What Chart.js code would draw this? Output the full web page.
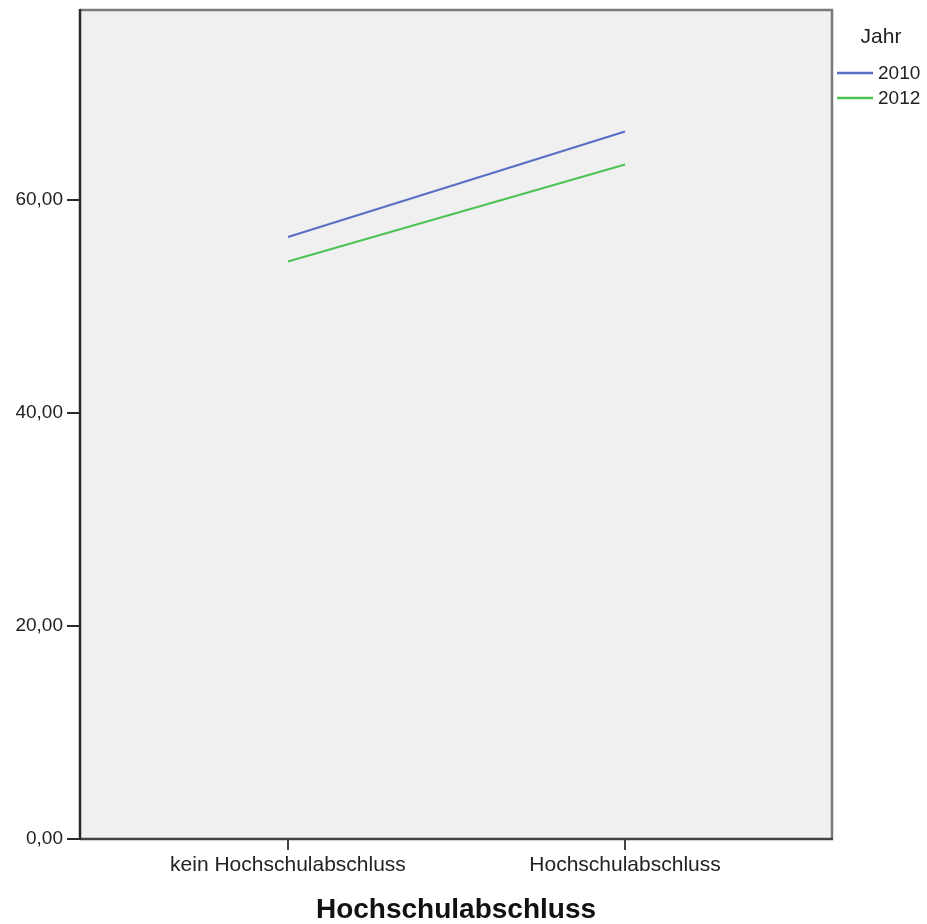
<!DOCTYPE html>
<html>
<head>
<meta charset="utf-8">
<script src="https://cdn.jsdelivr.net/npm/chart.js@4/dist/chart.umd.min.js"></script>
<style>
  body { margin: 0; background: #fff; }
</style>
</head>
<body>
<canvas id="chart" width="927" height="924"></canvas>
<script>
'use strict';

// Data
const categories = ['kein Hochschulabschluss', 'Hochschulabschluss'];
const seriesNames = ['2010', '2012'];
const values2010 = [56.5, 66.4];
const values2012 = [54.2, 63.3];
const yTicks = [0, 20, 40, 60];
const legendTitle = 'Jahr';
const xTitle = 'Hochschulabschluss';

const blueColor = '#5a6fc4',
  greenColor = '#4cc252',
  axisColor = '#2a2a2a',
  frameColor = '#7a7a7a',
  plotBg = '#f0f0f0';

function toPoints(vals) {
  return vals.map(function (v, i) { return { x: i, y: v }; });
}

// plot background + frame
const plotFrame = {
  id: 'plotFrame',
  beforeDatasetsDraw(chart) {
    const a = chart.chartArea, ctx = chart.ctx;
    ctx.save();
    ctx.fillStyle = plotBg;
    ctx.fillRect(a.left, a.top, a.right - a.left, a.bottom - a.top);
    ctx.restore();
  },
  afterDatasetsDraw(chart) {
    const a = chart.chartArea, ctx = chart.ctx;
    ctx.save();
    ctx.lineWidth = 2.5;
    ctx.strokeStyle = frameColor;
    ctx.beginPath();
    ctx.moveTo(a.left, a.top);
    ctx.lineTo(a.right, a.top);
    ctx.lineTo(a.right, a.bottom);
    ctx.stroke();
    ctx.strokeStyle = '#444';
    ctx.beginPath();
    ctx.moveTo(a.left, a.bottom);
    ctx.lineTo(a.right + 1, a.bottom);
    ctx.stroke();
    ctx.strokeStyle = axisColor;
    ctx.beginPath();
    ctx.moveTo(a.left, a.top - 1);
    ctx.lineTo(a.left, a.bottom + 1);
    ctx.stroke();
    ctx.restore();
  }
};

// legend on the right, SPSS style
const sideLegend = {
  id: 'sideLegend',
  afterDraw(chart) {
    const ctx = chart.ctx, a = chart.chartArea;
    ctx.save();
    ctx.fillStyle = '#222';
    ctx.textBaseline = 'middle';
    ctx.font = '21px "Liberation Sans", Arial, sans-serif';
    ctx.textAlign = 'center';
    ctx.fillText(legendTitle, a.right + 49, 37);
    ctx.font = '19px "Liberation Sans", Arial, sans-serif';
    ctx.textAlign = 'left';
    chart.data.datasets.forEach(function (ds, i) {
      const y = 73 + i * 25;
      ctx.strokeStyle = ds.borderColor;
      ctx.lineWidth = 2.5;
      ctx.beginPath();
      ctx.moveTo(a.right + 5, y);
      ctx.lineTo(a.right + 41, y);
      ctx.stroke();
      ctx.fillText(ds.label, a.right + 46, y + 1);
    });
    ctx.restore();
  }
};

const ctx = document.getElementById('chart');
new Chart(ctx, {
  type: 'line',
  data: {
    datasets: [
      { label: seriesNames[0], data: toPoints(values2010), borderColor: blueColor, borderWidth: 2.2, pointRadius: 0, fill: false },
      { label: seriesNames[1], data: toPoints(values2012), borderColor: greenColor, borderWidth: 2.2, pointRadius: 0, fill: false }
    ]
  },
  options: {
    responsive: false,
    animation: false,
    layout: { padding: { left: 0, top: 10, right: 95, bottom: 0 } },
    plugins: {
      legend: { display: false },
      tooltip: { enabled: false }
    },
    scales: {
      x: {
        type: 'linear',
        min: -0.617,
        max: 1.614,
        afterBuildTicks(scale) {
          scale.ticks = categories.map(function (c, i) { return { value: i }; });
        },
        afterFit(scale) {
          scale.height = 85;
          scale.paddingLeft = 0;
          scale.paddingRight = 0;
        },
        ticks: {
          includeBounds: false,
          autoSkip: false,
          maxRotation: 0,
          padding: 3,
          color: '#222',
          font: { family: '"Liberation Sans", Arial, sans-serif', size: 21 },
          callback: function (v) { return categories[v]; }
        },
        grid: { drawOnChartArea: false, drawTicks: true, tickLength: 11, color: '#444', lineWidth: 2 },
        border: { display: false },
        title: {
          display: true,
          text: xTitle,
          color: '#111',
          padding: { top: 0, bottom: 0 },
          font: { family: '"Liberation Sans", Arial, sans-serif', size: 28, weight: 'bold', lineHeight: 1 }
        }
      },
      y: {
        min: 0,
        max: 77.8,
        afterBuildTicks(scale) {
          scale.ticks = yTicks.map(function (v) { return { value: v }; });
        },
        afterFit(scale) {
          scale.width = 80;
          scale.paddingTop = 0;
          scale.paddingBottom = 0;
        },
        ticks: {
          includeBounds: false,
          padding: 4,
          color: '#222',
          font: { family: '"Liberation Sans", Arial, sans-serif', size: 19 },
          callback: function (v) { return v.toFixed(2).replace('.', ','); }
        },
        grid: { drawOnChartArea: false, drawTicks: true, tickLength: 13, color: axisColor, lineWidth: 2 },
        border: { display: false }
      }
    }
  },
  plugins: [plotFrame, sideLegend]
});
</script>
</body>
</html>
